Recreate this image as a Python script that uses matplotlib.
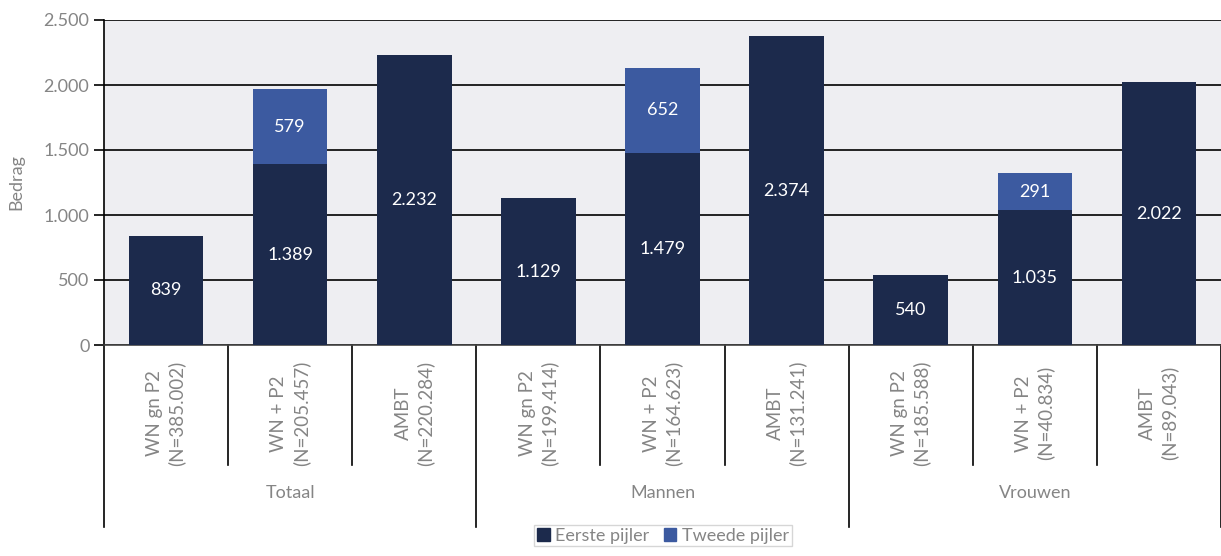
import matplotlib.pyplot as plt
from matplotlib.patches import Patch

# data
categories = ['WN gn P2\n(N=385.002)', 'WN + P2\n(N=205.457)', 'AMBT\n(N=220.284)',
              'WN gn P2\n(N=199.414)', 'WN + P2\n(N=164.623)', 'AMBT\n(N=131.241)',
              'WN gn P2\n(N=185.588)', 'WN + P2\n(N=40.834)', 'AMBT\n(N=89.043)']
groups = ['Totaal', 'Mannen', 'Vrouwen']
eerste = [839, 1389, 2232, 1129, 1479, 2374, 540, 1035, 2022]
tweede = [0, 579, 0, 0, 652, 0, 0, 291, 0]

dark = '#1c2a4c'
blue = '#3c5aa0'
grey = '#858585'


def fmt(v):
    return f'{v:,}'.replace(',', '.')


plt.rcParams['font.family'] = ['Lato', 'DejaVu Sans']

fig = plt.figure(figsize=(12.21, 5.56), dpi=100)
ax = fig.add_axes([104 / 1221, 1 - 345 / 556, 1 - 104 / 1221, 325 / 556])
ax.set_facecolor('#eeeef2')

x = list(range(len(categories)))
ax.bar(x, eerste, width=0.6, color=dark, zorder=3)
ax.bar(x, tweede, width=0.6, bottom=eerste, color=blue, zorder=3)

for i in x:
    ax.text(i, eerste[i] / 2, fmt(eerste[i]), ha='center', va='center',
            color='white', fontsize=13, zorder=4)
    if tweede[i]:
        ax.text(i, eerste[i] + tweede[i] / 2, fmt(tweede[i]), ha='center',
                va='center', color='white', fontsize=13, zorder=4)

ax.set_xlim(-0.5, 8.5)
ax.set_ylim(0, 2500)
ax.set_yticks(range(0, 2501, 500))
ax.set_yticklabels([fmt(v) for v in range(0, 2501, 500)])
ax.yaxis.grid(True, color='black', linewidth=1.2, zorder=0)
ax.set_axisbelow(True)
ax.tick_params(axis='y', colors='black', labelcolor=grey, labelsize=13,
               length=7, width=1.2)
ax.set_xticks([])
ax.set_ylabel('Bedrag', color=grey, fontsize=13, labelpad=14)
for s in ['top', 'right']:
    ax.spines[s].set_visible(False)
ax.spines['left'].set_linewidth(1.2)
ax.spines['bottom'].set_linewidth(1.2)
ax.spines['bottom'].set_color('#444444')

tr = ax.get_xaxis_transform()
for i, lab in enumerate(categories):
    ax.text(i, -0.21, lab, rotation=90, ha='center', va='center',
            color=grey, fontsize=13.5, transform=tr, linespacing=1.3)
for b in [0.5, 1.5, 3.5, 4.5, 6.5, 7.5]:
    ax.plot([b, b], [0, -0.37], color='black', lw=1.2, transform=tr, clip_on=False)
for b in [-0.5, 2.5, 5.5, 8.5]:
    ax.plot([b, b], [0, -0.56], color='black', lw=1.2, transform=tr, clip_on=False)
for g, lab in enumerate(groups):
    ax.text(g * 3 + 1, -0.455, lab, ha='center', va='center', color=grey,
            fontsize=13, transform=tr)

handles = [Patch(color=dark, label='Eerste pijler'), Patch(color=blue, label='Tweede pijler')]
fig.legend(handles=handles, loc='upper center', bbox_to_anchor=(663 / 1221, 1 - 525 / 556),
           ncol=2, frameon=True, fancybox=False, edgecolor='#cccccc', fontsize=13,
           labelcolor=grey, handlelength=0.7, handleheight=0.7, handletextpad=0.3,
           columnspacing=0.8, borderpad=0.15, borderaxespad=0)

fig.savefig('out.png', dpi=100)
